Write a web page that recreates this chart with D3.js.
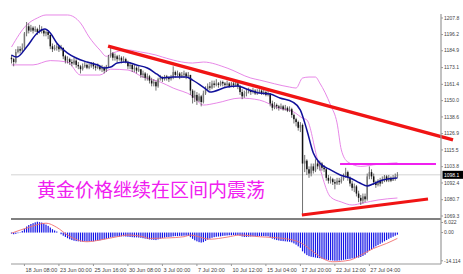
<!DOCTYPE html>
<html>
<head>
<meta charset="utf-8">
<script src="https://cdn.jsdelivr.net/npm/d3@7"></script>
<style>
  body { margin: 0; background: #fff; }
  svg { display: block; }
</style>
</head>
<body>
<div id="chart"></div>
<script>
// H4 gold bars (index 0 = first visible bar)
const closes = [
  1179,1177,1184,1186,1185,1187,1197,1202,1199,1201,
  1199,1200,1198,1200,1199,1197,1198,1196,1188,1186,
  1187,1188,1186,1187,1181,1178,1179,1177,1176,1178,
  1175,1174,1172,1174,1175,1173,1174,1176,1174,1173,
  1174,1172,1173,1171,1174,1181,1183,1180,1181,1179,
  1180,1178,1179,1177,1174,1175,1172,1173,1171,1172,
  1168,1169,1166,1167,1164,1162,1163,1160,1165,1166,
  1165,1167,1166,1165,1166,1170,1168,1169,1167,1168,
  1169,1167,1168,1157,1152,1154,1150,1153,1149,1155,
  1158,1160,1159,1162,1161,1162,1161,1163,1162,1161,
  1162,1160,1162,1161,1162,1160,1156,1153,1155,1156,
  1157,1156,1157,1155,1156,1157,1155,1156,1154,1155,
  1148,1145,1147,1146,1145,1146,1144,1145,1143,1144,
  1140,1137,1135,1131,1133,1106,1108,1102,1099,1104,
  1101,1106,1104,1106,1103,1102,1096,1094,1095,1093,
  1092,1094,1093,1095,1097,1100,1096,1092,1089,1090,
  1085,1082,1080,1083,1081,1097,1100,1097,1093,1091,
  1094,1092,1095,1097,1094,1096,1094,1096,1097,1098.1
];
const highs = [
  1182,1180,1186,1188,1188,1190,1198,1205,1204,1203,
  1202,1202,1201,1203,1202,1200,1199,1199,1196,1190,
  1189,1190,1189,1189,1187,1182,1181,1180,1179,1180,
  1179,1177,1175,1176,1177,1176,1176,1177,1177,1175,
  1176,1175,1175,1174,1175,1182,1188,1184,1183,1182,
  1182,1181,1181,1180,1178,1177,1176,1175,1174,1174,
  1172,1171,1170,1169,1168,1166,1165,1164,1166,1168,
  1167,1168,1168,1167,1168,1174,1171,1171,1170,1170,
  1171,1170,1170,1168,1158,1157,1156,1155,1154,1157,
  1160,1162,1163,1164,1164,1165,1163,1164,1164,1163,
  1164,1163,1163,1163,1164,1163,1161,1158,1157,1158,
  1159,1158,1159,1158,1158,1158,1158,1158,1157,1157,
  1155,1150,1149,1148,1147,1148,1147,1147,1146,1146,
  1145,1141,1138,1136,1135,1134,1112,1109,1104,1106,
  1106,1109,1108,1108,1107,1105,1103,1098,1097,1096,
  1095,1096,1096,1097,1099,1103,1101,1097,1094,1092,
  1091,1087,1084,1085,1085,1099,1104,1102,1099,1094,
  1095,1096,1097,1098,1098,1098,1097,1098,1099,1100
];
const lows = [
  1176,1174,1176,1183,1183,1184,1186,1195,1197,1198,
  1197,1198,1196,1197,1197,1195,1195,1193,1186,1184,
  1185,1185,1184,1185,1179,1176,1176,1175,1174,1175,
  1173,1172,1169,1171,1173,1172,1172,1173,1172,1171,
  1172,1171,1170,1169,1170,1173,1180,1178,1178,1177,
  1178,1176,1177,1176,1172,1172,1170,1170,1169,1170,
  1166,1166,1164,1164,1162,1160,1160,1157,1159,1164,
  1163,1164,1164,1163,1164,1165,1166,1167,1165,1166,
  1166,1165,1166,1154,1148,1149,1147,1149,1146,1148,
  1154,1157,1157,1158,1159,1160,1159,1160,1160,1159,
  1160,1159,1160,1159,1160,1158,1154,1151,1152,1153,
  1155,1154,1155,1154,1154,1155,1154,1154,1153,1153,
  1146,1143,1144,1144,1143,1144,1143,1143,1142,1142,
  1138,1134,1132,1129,1128,1070,1100,1098,1096,1097,
  1099,1100,1102,1101,1101,1100,1094,1092,1092,1091,
  1088,1091,1091,1092,1094,1096,1094,1090,1087,1086,
  1083,1079,1077,1078,1079,1080,1095,1095,1091,1089,
  1090,1090,1092,1093,1093,1093,1093,1094,1094,1096
];
const firstOpen = 1180;

// Bollinger middle / bands, [bar index, price] read at points along the lines
const bbMiddle = [[0,1181.9],[2.5,1180.5],[7,1187.5],[12,1197.3],[15.5,1200.1],[18,1197.3],
  [21,1190.3],[26,1183.3],[30,1179.8],[35,1177],[40,1174.9],[43,1172.8],[46,1173.5],
  [49,1176.3],[53,1177],[58,1174.9],[63,1172.8],[67.5,1168.5],[70,1166],[75,1166.5],
  [81,1166.5],[84,1164.4],[90.7,1157.4],[92,1156],[100,1159.5],[105,1160.2],[109,1158.1],
  [115,1155.3],[120,1154.6],[124.5,1151.8],[130.5,1149],[134,1143.4],[137,1129.5],
  [140,1113.4],[143,1106.4],[148,1101.5],[152.5,1098],[157,1095.9],[161.6,1092.4],
  [165,1090.3],[167.7,1091.7],[172.3,1094.5],[179,1095.9]];
const bbUpper = [[0,1187.5],[7,1202.9],[12,1207.8],[16,1209.9],[26,1209.9],[32,1204.3],
  [36,1194.5],[41,1185.4],[44,1181],[47,1183.3],[54,1185.4],[60,1184],[67,1181.9],
  [70,1180.5],[84,1176.3],[89,1177],[100,1172.8],[111,1165.8],[115,1164.4],[129,1159.5],
  [132,1158.8],[135,1165.8],[138,1166.5],[141,1166.5],[143,1162.3],[148,1146.9],
  [151,1134.4],[153,1115.5],[156,1107.1],[162,1104],[170,1105.5],[179,1106.5]];
const bbLower = [[0,1175],[10,1175],[18,1178],[26,1177],[32,1167.9],[41,1167.9],[46,1172],
  [54,1171.4],[61,1166.5],[69,1163],[75,1158.8],[84,1153.2],[89,1146.9],[95,1148.3],
  [106,1151.8],[115,1150.4],[124,1144.8],[131,1142],[135,1137.8],[137,1136.5],
  [142,1108.5],[148,1082.6],[153,1079.1],[158,1077],[163,1078.4],[170,1080.5],[179,1081.9]];

// MACD histogram, one value per bar
const macdHist = [
  -0.5,-0.8,-0.6,-0.3,0.2,0.8,
  1.8,2.9,3.6,4.1,4.5,
  4.9,5.2,5.0,4.8,4.4,
  3.8,3.2,2.4,1.6,1.0,0.5,0.0,
  -0.8,-1.5,-2.1,-2.7,-3.2,-3.6,-3.9,-4.1,
  -4.2,-4.3,-4.3,-4.2,-4.3,-4.2,-4.1,-4.2,-4.0,-3.9,-3.7,
  -3.4,-3.2,-3.0,-2.7,-2.3,-2.1,
  -2.0,-1.9,-1.9,-1.8,-1.8,-1.9,-2.0,-2.1,-2.2,
  -2.3,-2.3,-2.4,-2.5,-2.7,-2.9,-3.1,
  -3.3,-3.4,-3.5,-3.6,-3.3,-2.9,
  -2.6,-2.4,-2.2,-2.1,-2.0,-1.8,-1.7,-1.7,-1.6,-1.6,-1.5,-1.5,-1.6,-2.2,
  -3.0,-3.7,-4.2,-4.6,-4.8,-4.6,-4.0,-3.4,
  -2.9,-2.5,-2.2,-2.0,-1.9,-1.8,-1.6,-1.5,-1.4,
  -1.3,-1.3,-1.2,-1.2,-1.2,-1.5,-1.9,-2.1,-2.1,-2.0,-1.9,
  -1.8,-1.8,-1.7,-1.7,-1.7,-1.7,-1.8,-1.8,-2.3,-2.9,
  -3.3,-3.6,-3.8,-4.0,-4.1,-4.2,-4.3,-4.4,-4.7,-5.2,-5.8,
  -6.6,-7.3,-9.0,-10.0,-10.8,-11.3,
  -11.6,-11.8,-12.0,-12.2,-12.3,-12.5,-12.7,-13.0,
  -13.2,-13.3,-13.4,-13.5,-13.5,-13.4,-13.3,-13.1,-12.9,-12.7,-12.6,-12.4,
  -12.3,-12.2,-12.0,-11.7,-11.2,-10.6,
  -9.6,-8.8,-8.0,-7.3,-6.6,-6.0,-5.4,
  -4.8,-4.2,-3.6,-3.0,-2.5,-2.0,-1.5,-1.0
];
const macdSignal = [[0,-0.3],[8,2.5],[16,4.5],[21,2.5],[26,-1.2],[35,-4.4],[41,-3.6],
  [49,-2],[54,-1.2],[61,-2],[64,-2.8],[72,-2.6],[80,-2],[83,-1.2],[92,-3.2],[100,-2.2],
  [106,-1.2],[115,-2],[126,-2.8],[134,-4.8],[140,-9.2],[145,-12.8],[149,-14],
  [157,-13.2],[162,-10.8],[168,-7.6],[174,-5.2],[179,-2.8]];

// drawn objects, [bar index, price]
const trendUpper = [[44.8,1188.2],[204.8,1122.5]];
const trendLower = [[134.7,1070],[193.2,1081.2]];
const rangeTop = [[152.4,1105.6],[196.9,1105.6]];

// axes
const priceTicks = [1207.8,1196.2,1184.9,1173.1,1161.4,1150.0,1138.6,1126.9,1115.5,1103.8,1092.4,1080.7,1069.3];
const lastPrice = 1098.1;
const macdTicks = [6.022, 0, -14.114];
const macdTickLabels = ['6.022', '0.00', '-14.114'];
const timeTickIdx = [6,22,38,54,70,86,102,118,134,150,166];
const timeTickLabels = ['18 Jun 08:00','23 Jun 00:00','25 Jun 16:00','30 Jun 08:00','3 Jul 00:00',
  '7 Jul 20:00','10 Jul 12:00','15 Jul 04:00','17 Jul 20:00','22 Jul 12:00','27 Jul 04:00'];
const title = '黄金价格继续在区间内震荡';

function drawChart() {
  const W = 463, H = 274;
  const left = 11, right = 441;
  const mainTop = 14, mainBottom = 218, subBottom = 264;

  const svg = d3.select('#chart').append('svg')
    .attr('width', W)
    .attr('height', H);

  const x = d3.scaleLinear().domain([0, 179]).range([11.5, 397.4]);
  const y = d3.scaleLinear().domain([1069.3, 1207.8]).range([216, 18]);
  const ym = d3.scaleLinear().domain([-14.114, 6.022]).range([262, 220]);

  const lineP = d3.line().x(d => x(d[0])).y(d => y(d[1]));
  const smooth = d3.line().x(d => x(d[0])).y(d => y(d[1])).curve(d3.curveMonotoneX);

  // last price line
  svg.append('line')
    .attr('x1', left).attr('x2', right)
    .attr('y1', y(lastPrice)).attr('y2', y(lastPrice))
    .attr('stroke', '#c8c8c8')
    .attr('stroke-width', 0.8);

  // Bollinger bands
  [bbUpper, bbLower].forEach(band => {
    svg.append('path')
      .attr('d', smooth(band))
      .attr('fill', 'none')
      .attr('stroke', '#e47ae4')
      .attr('stroke-width', 0.9);
  });

  // candles
  const bars = svg.append('g');
  closes.forEach((c, i) => {
    const o = i === 0 ? firstOpen : closes[i - 1];
    const cx = x(i);
    bars.append('line')
      .attr('x1', cx).attr('x2', cx)
      .attr('y1', y(highs[i])).attr('y2', y(lows[i]))
      .attr('stroke', '#333')
      .attr('stroke-width', 0.7);
    const top = y(Math.max(o, c));
    const h = Math.max(0.8, Math.abs(y(o) - y(c)));
    bars.append('rect')
      .attr('x', cx - 0.75)
      .attr('y', top)
      .attr('width', 1.5)
      .attr('height', h)
      .attr('fill', c >= o ? '#777' : '#111');
  });

  // middle line
  svg.append('path')
    .attr('d', smooth(bbMiddle))
    .attr('fill', 'none')
    .attr('stroke', '#10109a')
    .attr('stroke-width', 1.5);

  // trend lines
  svg.append('path')
    .attr('d', lineP(trendUpper))
    .attr('stroke', '#f01414')
    .attr('stroke-width', 3.4)
    .attr('fill', 'none');
  svg.append('path')
    .attr('d', lineP(trendLower))
    .attr('stroke', '#f01414')
    .attr('stroke-width', 3)
    .attr('fill', 'none');
  svg.append('path')
    .attr('d', lineP(rangeTop))
    .attr('stroke', '#f020f0')
    .attr('stroke-width', 2)
    .attr('fill', 'none');

  // title
  svg.append('text')
    .attr('x', 37)
    .attr('y', 197)
    .attr('font-family', '"Noto Sans CJK SC", sans-serif')
    .attr('font-size', '19px')
    .attr('fill', '#f020f0')
    .text(title);

  // MACD histogram
  const hist = svg.append('g');
  macdHist.forEach((v, i) => {
    hist.append('rect')
      .attr('x', x(i) - 0.6)
      .attr('y', Math.min(ym(0), ym(v)))
      .attr('width', 1.2)
      .attr('height', Math.abs(ym(v) - ym(0)))
      .attr('fill', '#1414e6');
  });
  svg.append('path')
    .attr('d', d3.line().x(d => x(d[0])).y(d => ym(d[1])).curve(d3.curveMonotoneX)(macdSignal))
    .attr('fill', 'none')
    .attr('stroke', '#f07070')
    .attr('stroke-width', 0.9);

  // frame
  svg.append('rect')
    .attr('x', left).attr('y', mainBottom)
    .attr('width', right - left).attr('height', 2)
    .attr('fill', '#808080');
  svg.append('line')
    .attr('x1', right).attr('x2', right)
    .attr('y1', mainTop).attr('y2', subBottom)
    .attr('stroke', '#999')
    .attr('stroke-width', 1.2);
  svg.append('line')
    .attr('x1', left).attr('x2', right)
    .attr('y1', subBottom).attr('y2', subBottom)
    .attr('stroke', '#999')
    .attr('stroke-width', 1);

  const fontAxis = '"Liberation Sans", Arial, sans-serif';

  // price axis
  priceTicks.forEach(v => {
    svg.append('line')
      .attr('x1', right).attr('x2', right + 2)
      .attr('y1', y(v)).attr('y2', y(v))
      .attr('stroke', '#999');
    svg.append('text')
      .attr('x', right + 3)
      .attr('y', y(v))
      .attr('dy', '0.35em')
      .attr('font-family', fontAxis)
      .attr('font-size', '5px')
      .attr('fill', '#444')
      .text(v.toFixed(1));
  });

  // last price box
  svg.append('rect')
    .attr('x', right + 1.5).attr('y', y(lastPrice) - 4)
    .attr('width', W - right - 1.5).attr('height', 8)
    .attr('fill', '#000');
  svg.append('text')
    .attr('x', right + 3)
    .attr('y', y(lastPrice))
    .attr('dy', '0.35em')
    .attr('font-family', fontAxis)
    .attr('font-size', '5px')
    .attr('fill', '#fff')
    .text(lastPrice.toFixed(1));

  // MACD axis
  macdTicks.forEach((v, i) => {
    const ty = Math.min(Math.max(ym(v), 222.5), 260.8);
    svg.append('line')
      .attr('x1', right).attr('x2', right + 2)
      .attr('y1', ty).attr('y2', ty)
      .attr('stroke', '#999');
    svg.append('text')
      .attr('x', right + 3)
      .attr('y', ty)
      .attr('dy', '0.35em')
      .attr('font-family', fontAxis)
      .attr('font-size', '5px')
      .attr('fill', '#444')
      .text(macdTickLabels[i]);
  });

  // time axis
  timeTickIdx.forEach((idx, i) => {
    const tx = x(idx);
    svg.append('line')
      .attr('x1', tx).attr('x2', tx)
      .attr('y1', subBottom).attr('y2', subBottom + 2)
      .attr('stroke', '#999');
    svg.append('text')
      .attr('x', tx + 1)
      .attr('y', 271.5)
      .attr('font-family', fontAxis)
      .attr('font-size', '5.5px')
      .attr('fill', '#444')
      .text(timeTickLabels[i]);
  });
}

drawChart();
</script>
</body>
</html>
